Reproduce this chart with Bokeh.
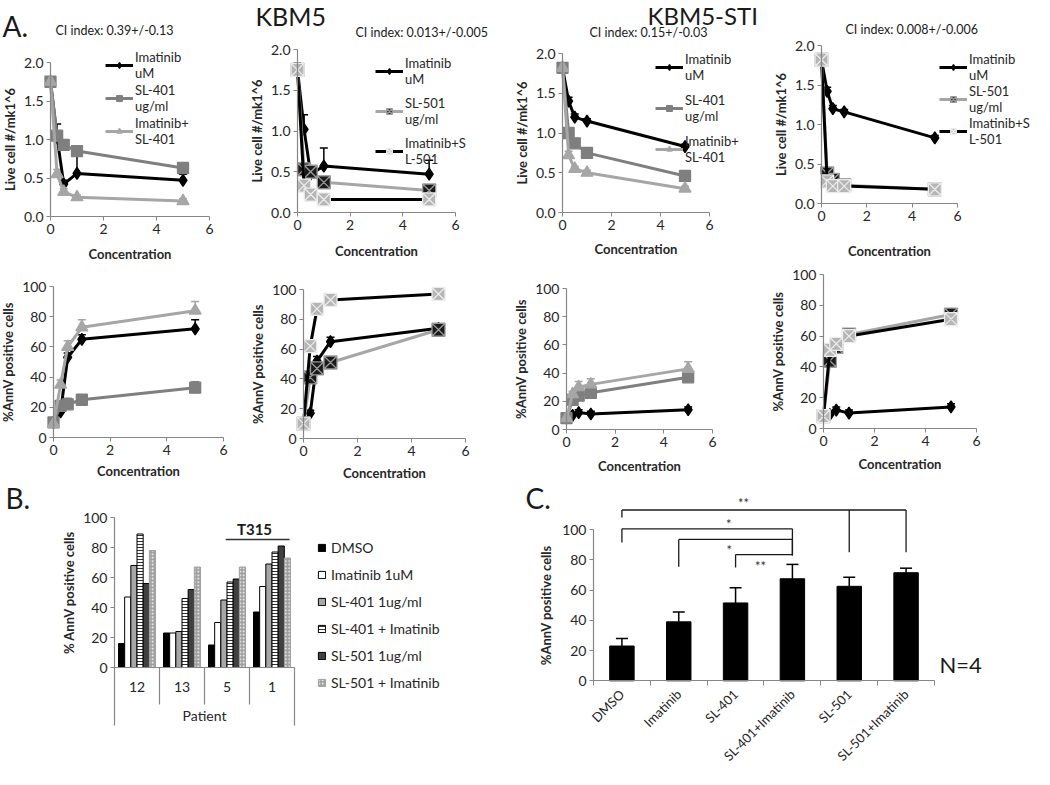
import math
from bokeh.plotting import figure
from bokeh.models import (ColumnDataSource, Legend, LegendItem, Whisker, TeeHead, Label,
                          FixedTicker, NumeralTickFormatter, Range1d)
from bokeh.layouts import row, column
from bokeh.transform import dodge
from bokeh.core.properties import value
from bokeh.embed import file_html
from bokeh.resources import INLINE

FONT = "Lato"
AXIS_GRAY = "#868686"
TEXT = "#262626"
BLACK = "#000000"
GRAY = "#7f7f7f"
LIGHT = "#a6a6a6"

# ---------------- data ----------------
conc = [0, 0.25, 0.5, 1, 5]

# Live cells - KBM5, SL-401 combination
live_k5_imat = [1.75, 1.02, 0.42, 0.56, 0.47]
live_k5_imat_err = [0.05, 0.18, 0.05, 0.28, 0.08]
live_k5_sl401 = [1.75, 1.05, 0.93, 0.85, 0.63]
live_k5_sl401_err = [0.03, 0.05, 0.04, 0.05, 0.03]
live_k5_combo401 = [1.75, 0.55, 0.32, 0.25, 0.20]
live_k5_combo401_err = [0.03, 0.06, 0.04, 0.03, 0.03]
# KBM5, SL-501 combination
live_k5b_imat = [1.75, 1.02, 0.47, 0.57, 0.47]
live_k5b_imat_err = [0.08, 0.18, 0.05, 0.22, 0.17]
live_k5_sl501 = [1.75, 0.53, 0.50, 0.37, 0.27]
live_k5_sl501_err = [0.03, 0.03, 0.03, 0.03, 0.02]
live_k5_combo501 = [1.75, 0.33, 0.22, 0.16, 0.16]
live_k5_combo501_err = [0.03, 0.03, 0.02, 0.02, 0.02]
# KBM5-STI, SL-401
live_sti_imat = [1.82, 1.40, 1.20, 1.15, 0.83]
live_sti_imat_err = [0.03, 0.05, 0.04, 0.03, 0.03]
live_sti_sl401 = [1.82, 1.00, 0.87, 0.75, 0.46]
live_sti_sl401_err = [0.03, 0.04, 0.03, 0.03, 0.03]
live_sti_combo401 = [1.82, 0.72, 0.55, 0.50, 0.30]
live_sti_combo401_err = [0.03, 0.05, 0.03, 0.03, 0.03]
# KBM5-STI, SL-501
live_stib_imat = [1.82, 1.42, 1.20, 1.16, 0.83]
live_stib_imat_err = [0.03, 0.05, 0.04, 0.03, 0.03]
live_sti_sl501 = [1.82, 0.38, 0.30, 0.23, 0.18]
live_sti_sl501_err = [0.03, 0.03, 0.03, 0.02, 0.02]
live_sti_combo501 = [1.82, 0.28, 0.22, 0.22, 0.18]
live_sti_combo501_err = [0.03, 0.03, 0.02, 0.02, 0.02]

# %AnnV positive cells
ann_k5_imat = [10, 17, 53, 65, 72]
ann_k5_imat_err = [1, 2, 3, 3, 6]
ann_k5_sl401 = [10, 21, 22, 25, 33]
ann_k5_sl401_err = [1, 2, 4, 3, 4]
ann_k5_combo401 = [9, 35, 60, 73, 84]
ann_k5_combo401_err = [1, 3, 4, 5, 6]
ann_k5b_imat = [10, 17, 52, 65, 74]
ann_k5b_imat_err = [1, 2, 3, 3, 3]
ann_k5_sl501 = [10, 41, 47, 51, 73]
ann_k5_sl501_err = [1, 3, 4, 3, 3]
ann_k5_combo501 = [10, 62, 87, 93, 97]
ann_k5_combo501_err = [1, 3, 3, 2, 2]
ann_sti_imat = [8, 10, 12, 11, 14]
ann_sti_imat_err = [1, 1, 2, 2, 2]
ann_sti_sl401 = [8, 21, 24, 26, 37]
ann_sti_sl401_err = [1, 2, 3, 3, 3]
ann_sti_combo401 = [8, 25, 30, 32, 43]
ann_sti_combo401_err = [1, 2, 4, 4, 5]
ann_stib_imat = [8, 9, 12, 10, 14]
ann_stib_imat_err = [1, 1, 2, 2, 2]
ann_sti_sl501 = [8, 44, 53, 61, 74]
ann_sti_sl501_err = [1, 3, 3, 3, 3]
ann_sti_combo501 = [8, 51, 55, 60, 71]
ann_sti_combo501_err = [1, 3, 3, 3, 3]

ci_texts = ["CI index: 0.39+/-0.13", "CI index: 0.013+/-0.005",
            "CI index: 0.15+/-0.03", "CI index: 0.008+/-0.006"]

# Panel B - patients
patients = ["12", "13", "5", "1"]
b_dmso = [16, 23, 15, 37]
b_imat = [47, 23, 30, 54]
b_sl401 = [68, 24, 45, 69]
b_sl401_imat = [89, 46, 57, 77]
b_sl501 = [56, 52, 59, 81]
b_sl501_imat = [78, 67, 67, 73]
b_labels = ["DMSO", "Imatinib 1uM", "SL-401 1ug/ml", "SL-401 + Imatinib",
            "SL-501 1ug/ml", "SL-501 + Imatinib"]

# Panel C
treatments = ["DMSO", "Imatinib", "SL-401", "SL-401+Imatinib", "SL-501", "SL-501+Imatinib"]
c_mean = [23, 39, 51.5, 67.5, 62.5, 71.5]
c_err = [5, 6.5, 10, 9.5, 6, 3]
sig_left = ["DMSO", "DMSO", "Imatinib", "SL-401"]
sig_right = ["SL-501+Imatinib", "SL-401+Imatinib", "SL-401+Imatinib", "SL-401+Imatinib"]
sig_mid = ["SL-501", None, None, None]
sig_level = [113, 100.5, 93.5, 83.5]
sig_left_end = [108, 91.5, 75.5, 75]
sig_right_end = [85, 83, 83, 83]
sig_marks = ["**", "*", "*", "**"]
sig_mark_level = [117.5, 104.0, 86.5, 76.0]
sig_mark_shift = [0.14, -0.12, -0.11, 0.44]   # relative to the SL-401 category centre


STY = {
    "imat": dict(line=BLACK, marker="diamond", fill=BLACK, mline=BLACK, size=12),
    "sl401": dict(line=GRAY, marker="square", fill=GRAY, mline=GRAY, size=11),
    "combo401": dict(line=LIGHT, marker="triangle", fill=LIGHT, mline=LIGHT, size=12),
    "sl501": dict(line=LIGHT, marker="square_x", fill="#1a1a1a", mline="#9a9a9a", size=13),
    "combo501": dict(line=BLACK, marker="square_x", fill="#b5b5b5", mline="#ececec", size=13),
}


def style_axis(ax):
    ax.axis_line_color = AXIS_GRAY
    ax.axis_line_width = 1.2
    ax.major_tick_line_color = AXIS_GRAY
    ax.minor_tick_line_color = None
    ax.major_tick_out = 4
    ax.major_tick_in = 0
    ax.major_label_text_font = FONT
    ax.major_label_text_font_size = "14px"
    ax.major_label_text_color = TEXT
    ax.axis_label_text_font = FONT
    ax.axis_label_text_font_style = "bold"
    ax.axis_label_text_font_size = "13px"
    ax.axis_label_text_color = TEXT
    ax.major_label_standoff = 3


def bare_figure(box, xr, yr):
    fx0, fy0, fw, fh = box
    p = figure(width=fw, height=fh, x_range=xr, y_range=yr, min_border=0, title=None,
               output_backend="svg", toolbar_location=None, tools="")
    p.grid.visible = False
    p.outline_line_color = None
    return p


def add_text(p, txt, x, y, size, align="left", bold=False, angle=0.0, color="#1a1a1a"):
    p.add_layout(Label(x=x, y=y, text=txt, text_font=FONT, text_font_size=size,
                       text_font_style="bold" if bold else "normal", text_color=color,
                       text_baseline="middle", text_align=align, angle=angle))


def line_panel(box, axis_px, kind, series, xlab_so, legend=None, texts=()):
    fx0, fy0, fw, fh = box
    x0px, x6px, ytop_px, y0px = axis_px
    live = kind == "live"
    ymax = 2.0 if live else 100.0
    ppx = (x6px - x0px) / 6.0
    ppy = (y0px - ytop_px) / ymax
    xr = Range1d((fx0 - x0px) / ppx, (fx0 + fw - x0px) / ppx)
    yr = Range1d((y0px - (fy0 + fh)) / ppy, (y0px - fy0) / ppy)
    p = bare_figure(box, xr, yr)
    style_axis(p.xaxis[0])
    style_axis(p.yaxis[0])
    p.xaxis.fixed_location = 0
    p.yaxis.fixed_location = 0
    p.xaxis.ticker = FixedTicker(ticks=[0, 2, 4, 6])
    p.xaxis.bounds = (0, 6)
    p.xaxis.axis_label = "Concentration"
    p.xaxis.axis_label_standoff = xlab_so
    p.yaxis.bounds = (0, ymax)
    p.yaxis.axis_label_standoff = 3
    if live:
        p.yaxis.ticker = FixedTicker(ticks=[0, 0.5, 1.0, 1.5, 2.0])
        p.yaxis.formatter = NumeralTickFormatter(format="0.0")
        p.yaxis.axis_label = "Live cell #/mk1^6"
    else:
        p.yaxis.ticker = FixedTicker(ticks=[0, 20, 40, 60, 80, 100])
        p.yaxis.axis_label = "%AnnV positive cells"

    items = []
    for (ys, errs, key, label) in series:
        s = STY[key]
        src = ColumnDataSource(dict(x=conc, y=ys, hi=[a + b for a, b in zip(ys, errs)]))
        wk = Whisker(source=src, base="x", lower="y", upper="hi", dimension="height",
                     line_color=s["line"], line_width=1.5, lower_head=None,
                     upper_head=TeeHead(size=8, line_color=s["line"], line_width=1.5),
                     level="underlay")
        p.add_layout(wk)
        lr = p.line("x", "y", source=src, line_color=s["line"], line_width=3)
        sr = p.scatter("x", "y", source=src, marker=s["marker"], size=s["size"],
                       fill_color=s["fill"], line_color=s["mline"], line_width=1.3)
        items.append(LegendItem(label=label, renderers=[lr, sr]))

    if legend:
        gx, gbottom, sp = legend
        lg = Legend(items=items, location=(gx - fx0, fy0 + fh - gbottom), orientation="vertical",
                    padding=0, margin=0, spacing=sp, border_line_color=None,
                    background_fill_alpha=0, glyph_width=28, glyph_height=14,
                    label_standoff=2, label_text_font=FONT, label_text_font_size="13px",
                    label_text_color=TEXT, label_height=14)
        p.add_layout(lg)

    for (txt, px, py, size) in texts:
        add_text(p, txt, (px - x0px) / ppx, (y0px - py) / ppy, size)
    return p


p1 = line_panel((8, 8, 247, 268), (58, 217, 70, 224), "live",
                [(live_k5_imat, live_k5_imat_err, "imat", "Imatinib\nuM"),
                 (live_k5_sl401, live_k5_sl401_err, "sl401", "SL-401\nug/ml"),
                 (live_k5_combo401, live_k5_combo401_err, "combo401", "Imatinib+\nSL-401")],
                9, legend=(113, 155, 1),
                texts=[("A.", 10, 33, "28px"), (ci_texts[0], 63, 38, "12.5px")])
p2 = line_panel((255, 8, 262, 268), (305, 463, 57, 220), "live",
                [(live_k5b_imat, live_k5b_imat_err, "imat", "Imatinib\nuM"),
                 (live_k5_sl501, live_k5_sl501_err, "sl501", "SL-501\nug/ml"),
                 (live_k5_combo501, live_k5_combo501_err, "combo501", "Imatinib+S\nL-501")],
                10, legend=(383, 175, 8),
                texts=[("KBM5", 263, 23, "25px"), (ci_texts[1], 363, 40, "12.5px")])
p3 = line_panel((517, 8, 258, 268), (570, 717, 61, 220), "live",
                [(live_sti_imat, live_sti_imat_err, "imat", "Imatinib\nuM"),
                 (live_sti_sl401, live_sti_sl401_err, "sl401", "SL-401\nug/ml"),
                 (live_sti_combo401, live_sti_combo401_err, "combo401", "Imatinib+\nSL-401")],
                8, legend=(663, 173, 9),
                texts=[("KBM5-STI", 655, 23, "24px"), (ci_texts[2], 597, 40, "12.5px")])
p4 = line_panel((775, 8, 267, 262), (829, 965, 53, 211), "live",
                [(live_stib_imat, live_stib_imat_err, "imat", "Imatinib\nuM"),
                 (live_sti_sl501, live_sti_sl501_err, "sl501", "SL-501\nug/ml"),
                 (live_sti_combo501, live_sti_combo501_err, "combo501", "Imatinib+S\nL-501")],
                19, legend=(947, 155, 0),
                texts=[(ci_texts[3], 853, 37, "12.5px")])
p5 = line_panel((8, 276, 247, 214), (61, 231, 294, 445), "ann",
                [(ann_k5_imat, ann_k5_imat_err, "imat", "Imatinib uM"),
                 (ann_k5_sl401, ann_k5_sl401_err, "sl401", "SL-401 ug/ml"),
                 (ann_k5_combo401, ann_k5_combo401_err, "combo401", "Imatinib+SL-401")], 5)
p6 = line_panel((255, 276, 262, 214), (311, 473, 297, 446), "ann",
                [(ann_k5b_imat, ann_k5b_imat_err, "imat", "Imatinib uM"),
                 (ann_k5_sl501, ann_k5_sl501_err, "sl501", "SL-501 ug/ml"),
                 (ann_k5_combo501, ann_k5_combo501_err, "combo501", "Imatinib+SL-501")], 6)
p7 = line_panel((517, 276, 258, 214), (574, 720, 296, 437), "ann",
                [(ann_sti_imat, ann_sti_imat_err, "imat", "Imatinib uM"),
                 (ann_sti_sl401, ann_sti_sl401_err, "sl401", "SL-401 ug/ml"),
                 (ann_sti_combo401, ann_sti_combo401_err, "combo401", "Imatinib+SL-401")], 8)
p8 = line_panel((775, 270, 267, 220), (831, 984, 282, 436), "ann",
                [(ann_stib_imat, ann_stib_imat_err, "imat", "Imatinib uM"),
                 (ann_sti_sl501, ann_sti_sl501_err, "sl501", "SL-501 ug/ml"),
                 (ann_sti_combo501, ann_sti_combo501_err, "combo501", "Imatinib+SL-501")], 7)

# ---------------- Panel B ----------------
bx0, bcw, by0, bppy = 122, 45.0, 675, 1.5          # pixel frame of reference
boxB = (8, 490, 522, 287)
pB = bare_figure(boxB, Range1d((8 - bx0) / bcw, (530 - bx0) / bcw),
                 Range1d((by0 - 777) / bppy, (by0 - 490) / bppy))
pB.xaxis.visible = False
style_axis(pB.yaxis[0])
pB.yaxis.fixed_location = 0
pB.yaxis.bounds = (-38.7, 100)
pB.yaxis.ticker = FixedTicker(ticks=[0, 20, 40, 60, 80, 100])

pat_x = [i + 0.5 for i in range(len(patients))]
srcB = ColumnDataSource(dict(px=pat_x, dmso=b_dmso, imat=b_imat, sl401=b_sl401,
                             sl401i=b_sl401_imat, sl501=b_sl501, sl501i=b_sl501_imat))
bw = 0.137
b_cols = ["dmso", "imat", "sl401", "sl401i", "sl501", "sl501i"]
b_styles = [
    dict(fill_color=BLACK, line_color=BLACK),
    dict(fill_color="white", line_color=BLACK),
    dict(fill_color=LIGHT, line_color=BLACK),
    dict(fill_color="white", line_color=BLACK, hatch_pattern="horizontal_line",
         hatch_color=BLACK, hatch_scale=3.0, hatch_weight=0.8),
    dict(fill_color="#404040", line_color=BLACK),
    dict(fill_color="#a0a0a0", line_color="#a0a0a0", hatch_pattern="dot",
         hatch_color="white", hatch_scale=3.5, hatch_weight=1.0),
]
b_items = []
for i, (col, st) in enumerate(zip(b_cols, b_styles)):
    r = pB.vbar(x=dodge("px", (i - 2.5) * bw), top=col, width=bw, source=srcB,
                line_width=1, **st)
    b_items.append(LegendItem(label=b_labels[i], renderers=[r]))
lgB = Legend(items=b_items, location=(325 - 8, 777 - 700), padding=0, margin=0, spacing=7,
             border_line_color=None, background_fill_alpha=0, glyph_width=9, glyph_height=9,
             label_standoff=5, label_text_font=FONT, label_text_font_size="14px",
             label_text_color=TEXT, label_height=20)
pB.add_layout(lgB)
npat = len(patients)
pB.segment(x0=[0], y0=[0], x1=[npat], y1=[0], line_color=AXIS_GRAY, line_width=1.2)
seps = list(range(1, npat))
pB.segment(x0=seps, y0=0, x1=seps, y1=-24.7, line_color=AXIS_GRAY, line_width=1.2)
pB.segment(x0=[npat], y0=[0], x1=[npat], y1=[-38.7], line_color=AXIS_GRAY, line_width=1.2)
pB.text(x=pat_x, y=-13.3, text=patients, text_align="center", text_baseline="middle",
        text_font=value(FONT), text_font_size="14px", text_color=TEXT)
add_text(pB, "Patient", npat / 2, -32, "14px", align="center", color=TEXT)
i5 = patients.index("5")
i1 = patients.index("1")
pB.segment(x0=[i5 + 0.47], y0=[85.3], x1=[i1 + 0.89], y1=[85.3], line_color="#333333",
           line_width=1.5)
add_text(pB, "T315", (262 - bx0) / bcw, (by0 - 536) / bppy, "15px", align="center", bold=True)
add_text(pB, "B.", (13 - bx0) / bcw, (by0 - 505) / bppy, "28px")
add_text(pB, "% AnnV positive cells", (76 - bx0) / bcw, 50, "13px", align="center", bold=True,
         angle=math.pi / 2, color=TEXT)

# ---------------- Panel C ----------------
cx0, ccw, cy0, cppy = 601, 56.83, 688.3, 1.5117
boxC = (530, 490, 512, 287)
pC = bare_figure(boxC, Range1d((530 - cx0) / ccw, (1042 - cx0) / ccw),
                 Range1d((cy0 - 777) / cppy, (cy0 - 490) / cppy))
style_axis(pC.xaxis[0])
style_axis(pC.yaxis[0])
cat_x = [i + 0.5 for i in range(len(treatments))]
pC.xaxis.fixed_location = 0
pC.yaxis.fixed_location = 0
pC.xaxis.bounds = (0, len(treatments))
pC.xaxis.ticker = FixedTicker(ticks=cat_x, minor_ticks=list(range(len(treatments) + 1)))
pC.xaxis.major_label_overrides = {x: t for x, t in zip(cat_x, treatments)}
pC.xaxis.major_tick_line_color = None
pC.xaxis.minor_tick_line_color = AXIS_GRAY
pC.xaxis.minor_tick_out = 5
pC.xaxis.minor_tick_in = 0
pC.xaxis.major_label_orientation = math.pi / 4
pC.xaxis.major_label_text_font_size = "13px"
pC.xaxis.major_label_standoff = 6
pC.yaxis.ticker = FixedTicker(ticks=[0, 20, 40, 60, 80, 100])
pC.yaxis.bounds = (0, 100)
srcC = ColumnDataSource(dict(x=cat_x, mean=c_mean, hi=[m + e for m, e in zip(c_mean, c_err)]))
pC.add_layout(Whisker(source=srcC, base="x", lower="mean", upper="hi", dimension="height",
                      line_color=BLACK, line_width=1.5, lower_head=None,
                      upper_head=TeeHead(size=12, line_color=BLACK, line_width=1.5),
                      level="underlay"))
pC.vbar(x="x", top="mean", width=0.43, source=srcC, fill_color=BLACK, line_color=BLACK)

ctr = {c: x for c, x in zip(treatments, cat_x)}
hx0 = [ctr[a] for a in sig_left]
hx1 = [ctr[b] for b in sig_right]
pC.segment(x0=hx0, y0=sig_level, x1=hx1, y1=sig_level, line_color="#1a1a1a", line_width=1.3)
lx, ly0, ly1 = [], [], []
for a, b, m, lev, le, re in zip(sig_left, sig_right, sig_mid, sig_level, sig_left_end, sig_right_end):
    lx += [ctr[a], ctr[b]]
    ly0 += [lev, lev]
    ly1 += [le, re]
    if m:
        lx.append(ctr[m]); ly0.append(lev); ly1.append(re)
pC.segment(x0=lx, y0=ly0, x1=lx, y1=ly1, line_color="#1a1a1a", line_width=1.3)
pC.text(x=[ctr["SL-401"] + s for s in sig_mark_shift], y=sig_mark_level, text=sig_marks,
        text_align="center", text_baseline="middle", text_font=value(FONT),
        text_font_size="13px", text_color="#333333")
add_text(pC, "N=4", (947 - cx0) / ccw, (cy0 - 672) / cppy, "22px")
add_text(pC, "C.", (533 - cx0) / ccw, (cy0 - 505) / cppy, "28px")
add_text(pC, "%AnnV positive cells", (553 - cx0) / ccw, 50, "13px", align="center", bold=True,
         angle=math.pi / 2, color=TEXT)

layout = column(row(column(p1, p5), column(p2, p6), column(p3, p7), column(p4, p8)),
                row(pB, pC))
open("out.html", "w").write(file_html(layout, INLINE, title="SL-401 / SL-501 figure"))
